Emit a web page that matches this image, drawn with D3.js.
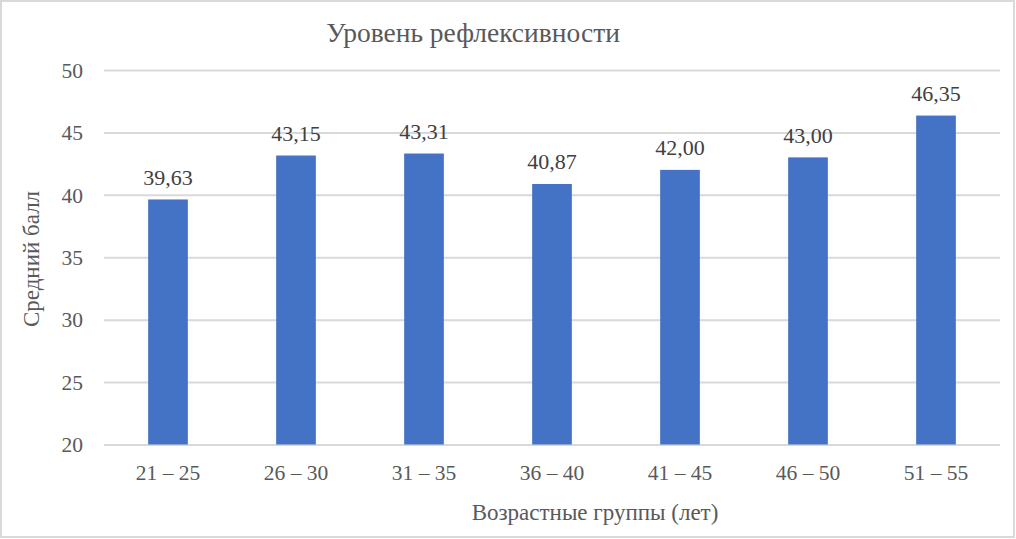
<!DOCTYPE html>
<html><head><meta charset="utf-8">
<script src="https://cdn.jsdelivr.net/npm/d3@7"></script>
<style>body{margin:0;background:#fff}svg{display:block}</style>
</head><body>
<script>
const categories = ["21 – 25","26 – 30","31 – 35","36 – 40","41 – 45","46 – 50","51 – 55"];
const values = [39.63,43.15,43.31,40.87,42.00,43.00,46.35];
const yTicks = [20,25,30,35,40,45,50];
const title = "Уровень рефлексивности";
const xTitle = "Возрастные группы (лет)";
const yTitle = "Средний балл";

const W=1016,H=539;
const font="'Liberation Serif','Times New Roman',serif";
const svg=d3.select("body").append("svg").attr("width",W).attr("height",H).attr("font-family",font);
svg.append("rect").attr("x",1).attr("y",1).attr("width",W-3).attr("height",H-3).attr("fill","#fff").attr("stroke","#d9d9d9").attr("stroke-width",2);
const x=d3.scaleBand().domain(categories).range([104,1000]).paddingInner(0.69).paddingOuter(0.345);
const y=d3.scaleLinear().domain([20,50]).range([444.5,70]);

const gy=svg.append("g").attr("transform","translate(104,0)")
 .call(d3.axisLeft(y).tickValues(yTicks).tickSize(-896).tickPadding(21).tickFormat(d3.format("d")));
gy.attr("font-family",null);
gy.select(".domain").remove();
gy.selectAll("line").attr("stroke","#d9d9d9").attr("stroke-width",2);
gy.selectAll("text").attr("fill","#595959").style("font-family",font).style("font-size","21.5px").attr("dy","0.34em");

svg.selectAll("rect.bar").data(values).join("rect").attr("class","bar")
 .attr("x",(d,i)=>x(categories[i])).attr("width",x.bandwidth())
 .attr("y",d=>y(d)).attr("height",d=>y(20)-y(d)).attr("fill","#4472c4");

const gx=svg.append("g").attr("transform","translate(0,444.5)")
 .call(d3.axisBottom(x).tickSize(0).tickPadding(0));
gx.attr("font-family",null);
gx.select(".domain").remove();
gx.selectAll("text").attr("fill","#595959").style("font-family",font).style("font-size","21.5px").attr("dy",null).attr("y",35.5);

svg.selectAll("text.lbl").data(values).join("text").attr("class","lbl")
 .attr("x",(d,i)=>x(categories[i])+x.bandwidth()/2).attr("y",d=>y(d)-14.5)
 .attr("text-anchor","middle").attr("fill","#404040").style("font-family",font).style("font-size","22px")
 .text(d=>d3.format(".2f")(d).replace(".",","));

svg.append("text").attr("x",473).attr("y",42).attr("text-anchor","middle").attr("fill","#595959")
 .style("font-family",font).style("font-size","27.5px").text(title);
svg.append("text").attr("x",595).attr("y",520).attr("text-anchor","middle").attr("fill","#595959")
 .style("font-family",font).style("font-size","23px").text(xTitle);
svg.append("text").attr("transform","translate(39,259) rotate(-90)").attr("text-anchor","middle").attr("fill","#595959")
 .style("font-family",font).style("font-size","23px").text(yTitle);
</script>
</body></html>
